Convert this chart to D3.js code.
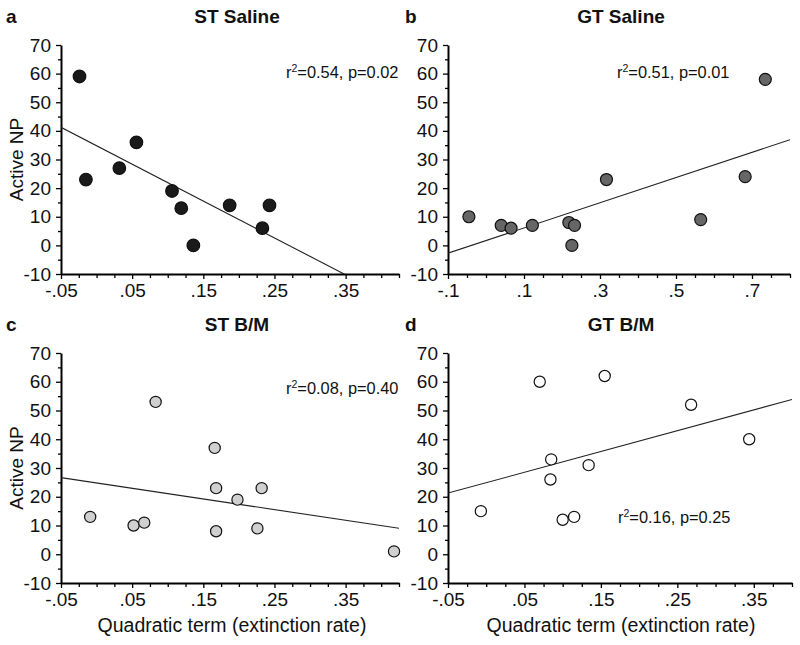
<!DOCTYPE html>
<html>
<head>
<meta charset="utf-8">
<script src="https://d3js.org/d3.v7.min.js"></script>
<style>
  body { margin: 0; background: #fff; }
  text { font-family: Arial, "Liberation Sans", sans-serif; fill: #111; }
  .axis path, .axis line { stroke: #000; fill: none; }
  .axis path { stroke-width: 2; }
  .axis line { stroke-width: 1.3; }
  .axis text { font-size: 19px; }
</style>
</head>
<body>
<script>
// panel letters and titles
var letters = ["a", "b", "c", "d"];
var titles = ["ST Saline", "GT Saline", "ST B/M", "GT B/M"];
var stats = [["0.54", "0.02"], ["0.51", "0.01"], ["0.08", "0.40"], ["0.16", "0.25"]];

// points per panel: quadratic term (x) and active NP (y)
var stSalineX = [-0.024, -0.015, 0.032, 0.056, 0.106, 0.119, 0.136, 0.187, 0.233, 0.243];
var stSalineY = [59, 23, 27, 36, 19, 13, 0, 14, 6, 14];
var gtSalineX = [-0.045, 0.040, 0.066, 0.122, 0.218, 0.233, 0.226, 0.317, 0.565, 0.682, 0.735];
var gtSalineY = [10, 7, 6, 7, 8, 7, 0, 23, 9, 24, 58];
var stBMX = [-0.009, 0.052, 0.067, 0.083, 0.166, 0.168, 0.168, 0.198, 0.232, 0.226, 0.418];
var stBMY = [13, 10, 11, 53, 37, 23, 8, 19, 23, 9, 1];
var gtBMX = [-0.007, 0.070, 0.085, 0.084, 0.100, 0.115, 0.134, 0.155, 0.268, 0.344];
var gtBMY = [15, 60, 33, 26, 12, 13, 31, 62, 52, 40];

// regression lines: intercept, slope
var fitIntercept = [34.8, 1.7, 24.8, 24.9];
var fitSlope = [-128.8, 44.0, -37.1, 72.3];

// axis ticks
var yTicks = [-10, 0, 10, 20, 30, 40, 50, 60, 70];
var xLabelsST = [-0.05, 0.05, 0.15, 0.25, 0.35];
var xLabelsGT = [-0.1, 0.1, 0.3, 0.5, 0.7];

var svg = d3.select("body").append("svg")
  .attr("width", 800).attr("height", 645);

function fmt(v, dec) {
  return (v < 0 ? "-" : "") + Math.abs(v).toFixed(dec).replace(/^0/, "");
}

function minorTicks(lo, hi, step) {
  var out = [];
  var n = Math.round((hi - lo) / step);
  for (var i = 0; i <= n; i++) out.push(+(lo + i * step).toFixed(4));
  return out;
}

var panels = [
  { xs: stSalineX, ys: stSalineY, xd: [-0.05, 0.425], xr: [61, 399], yr: [274, 45],
    labels: xLabelsST, step: 0.025, dec: 2, fill: "#1a1a1a", r: 6.3,
    stat: [286, 78], yLabel: true, xLabel: false, top: 0 },
  { xs: gtSalineX, ys: gtSalineY, xd: [-0.1, 0.8], xr: [448, 790], yr: [274, 45],
    labels: xLabelsGT, step: 0.05, dec: 1, fill: "#666", r: 6,
    stat: [617, 78], yLabel: false, xLabel: false, top: 0 },
  { xs: stBMX, ys: stBMY, xd: [-0.05, 0.425], xr: [61, 399], yr: [583, 353],
    labels: xLabelsST, step: 0.025, dec: 2, fill: "#d0d0d0", r: 5.6,
    stat: [286, 394], yLabel: true, xLabel: true, top: 308 },
  { xs: gtBMX, ys: gtBMY, xd: [-0.05, 0.40], xr: [448, 792], yr: [583, 353],
    labels: xLabelsST, step: 0.025, dec: 2, fill: "#fff", r: 5.6,
    stat: [618, 523], yLabel: false, xLabel: true, top: 308 }
];

panels.forEach(function(p, i) {
  var x = d3.scaleLinear().domain(p.xd).range(p.xr);
  var y = d3.scaleLinear().domain([-10, 70]).range(p.yr);
  var g = svg.append("g");

  // letter and title
  g.append("text").attr("x", i % 2 ? 405 : 6).attr("y", p.top + 23)
    .style("font-size", "19px").style("font-weight", "bold").text(letters[i]);
  g.append("text").attr("x", i % 2 ? 621 : 237).attr("y", p.top + 23)
    .attr("text-anchor", "middle")
    .style("font-size", "19px").style("font-weight", "bold").text(titles[i]);

  // clip for the fit line
  var clipId = "clip" + i;
  svg.append("clipPath").attr("id", clipId).append("rect")
    .attr("x", p.xr[0]).attr("y", p.yr[1])
    .attr("width", p.xr[1] - p.xr[0]).attr("height", p.yr[0] - p.yr[1]);

  // x axis
  var xTickVals = minorTicks(p.xd[0], p.xd[1], p.step);
  var isLabel = function(v) {
    return p.labels.some(function(l) { return Math.abs(l - v) < 1e-6; });
  };
  var xAxis = d3.axisBottom(x).tickValues(xTickVals).tickSize(4).tickSizeOuter(0)
    .tickPadding(6)
    .tickFormat(function(v) { return isLabel(v) ? fmt(v, p.dec) : ""; });
  var xg = g.append("g").attr("class", "axis")
    .attr("transform", "translate(0," + p.yr[0] + ")").call(xAxis);
  xg.selectAll(".tick line").attr("y2", function(v) { return isLabel(v) ? 5 : 4; });

  // y axis
  var yMinor = minorTicks(-10, 70, 5);
  var yAxis = d3.axisLeft(y).tickValues(yMinor).tickSize(5).tickSizeOuter(0).tickPadding(5)
    .tickFormat(function(v) { return yTicks.indexOf(v) >= 0 ? v : ""; });
  var yg = g.append("g").attr("class", "axis")
    .attr("transform", "translate(" + p.xr[0] + ",0)").call(yAxis);
  yg.selectAll(".tick line").attr("x2", function(v) { return yTicks.indexOf(v) >= 0 ? -5 : -3; });
  yg.selectAll(".tick text").style("font-size", "19px");
  xg.selectAll(".tick text").style("font-size", "19px");

  // fit line
  var f = function(v) { return fitIntercept[i] + fitSlope[i] * v; };
  g.append("line").attr("clip-path", "url(#" + clipId + ")")
    .attr("x1", x(p.xd[0])).attr("y1", y(f(p.xd[0])))
    .attr("x2", x(p.xd[1])).attr("y2", y(f(p.xd[1])))
    .attr("stroke", "#222").attr("stroke-width", 1.1);

  // points
  g.selectAll("circle.pt").data(p.xs).enter().append("circle")
    .attr("class", "pt")
    .attr("cx", function(d) { return x(d); })
    .attr("cy", function(d, k) { return y(p.ys[k]); })
    .attr("r", p.r)
    .attr("fill", p.fill).attr("stroke", "#111").attr("stroke-width", 1.2);

  // stats
  var st = g.append("text").attr("x", p.stat[0]).attr("y", p.stat[1])
    .style("font-size", "16.4px");
  st.append("tspan").text("r");
  st.append("tspan").attr("dy", -6).style("font-size", "10.5px").text("2");
  st.append("tspan").attr("dy", 6).text("=" + stats[i][0] + ", p=" + stats[i][1]);

  // axis titles
  if (p.yLabel) {
    g.append("text")
      .attr("transform", "translate(23," + ((p.yr[0] + p.yr[1]) / 2) + ") rotate(-90)")
      .attr("text-anchor", "middle").style("font-size", "19px").text("Active NP");
  }
  if (p.xLabel) {
    g.append("text").attr("x", i === 2 ? 232 : 621).attr("y", 632)
      .attr("text-anchor", "middle").style("font-size", "19.5px")
      .text("Quadratic term (extinction rate)");
  }
});
</script>
</body>
</html>
